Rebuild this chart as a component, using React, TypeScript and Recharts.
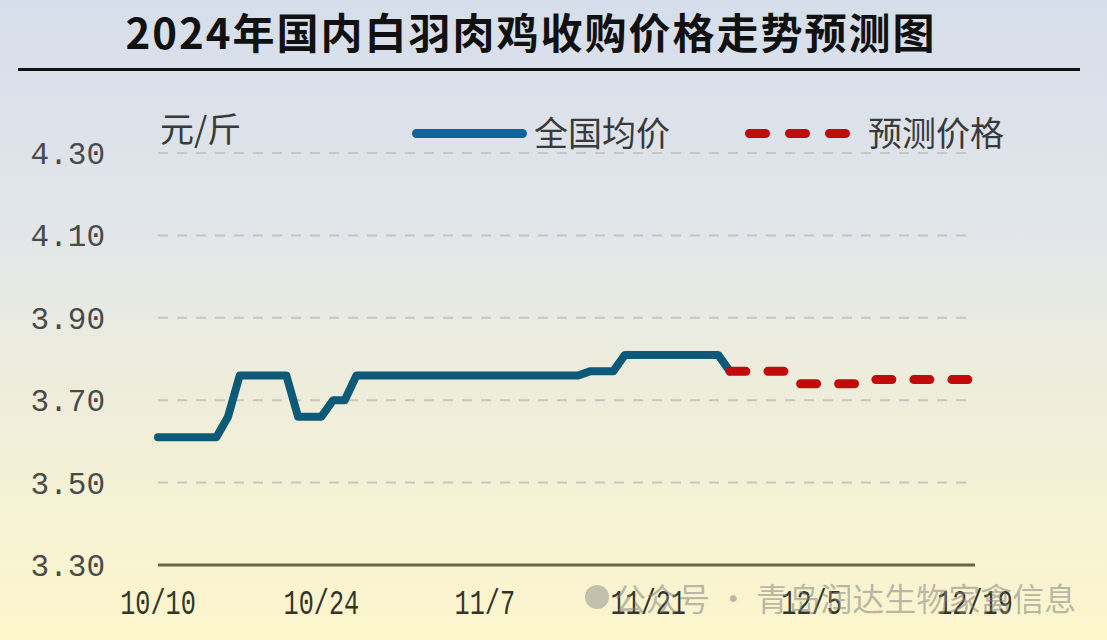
import { CartesianGrid, Line, LineChart, XAxis, YAxis } from "recharts";

// daily categories 10/10 .. 12/19
const DATES = [
  "10/10", "10/11", "10/12", "10/13", "10/14", "10/15", "10/16", "10/17", "10/18", "10/19",
  "10/20", "10/21", "10/22", "10/23", "10/24", "10/25", "10/26", "10/27", "10/28", "10/29",
  "10/30", "10/31", "11/1", "11/2", "11/3", "11/4", "11/5", "11/6", "11/7", "11/8",
  "11/9", "11/10", "11/11", "11/12", "11/13", "11/14", "11/15", "11/16", "11/17", "11/18",
  "11/19", "11/20", "11/21", "11/22", "11/23", "11/24", "11/25", "11/26", "11/27", "11/28",
  "11/29", "11/30", "12/1", "12/2", "12/3", "12/4", "12/5", "12/6", "12/7", "12/8",
  "12/9", "12/10", "12/11", "12/12", "12/13", "12/14", "12/15", "12/16", "12/17", "12/18",
  "12/19",
];

// 全国均价, 10/10 .. 11/28
const NATIONAL = [
  3.61, 3.61, 3.61, 3.61, 3.61, 3.61, 3.66, 3.76, 3.76, 3.76,
  3.76, 3.76, 3.66, 3.66, 3.66, 3.7, 3.7, 3.76, 3.76, 3.76,
  3.76, 3.76, 3.76, 3.76, 3.76, 3.76, 3.76, 3.76, 3.76, 3.76,
  3.76, 3.76, 3.76, 3.76, 3.76, 3.76, 3.76, 3.77, 3.77, 3.77,
  3.81, 3.81, 3.81, 3.81, 3.81, 3.81, 3.81, 3.81, 3.81, 3.77,
];

// 预测价格, 11/28 .. 12/19
const FORECAST_FROM = "11/28";
const FORECAST = [
  3.77, 3.77, 3.77, 3.77, 3.77, 3.77, 3.74, 3.74, 3.74, 3.74,
  3.74, 3.74, 3.75, 3.75, 3.75, 3.75, 3.75, 3.75, 3.75, 3.75,
  3.75, 3.75,
];

const Y_TICKS = [3.3, 3.5, 3.7, 3.9, 4.1, 4.3];

const BLUE = "#0c5a78";
const RED = "#c20a0a";

const start = DATES.indexOf(FORECAST_FROM);
const rows = DATES.map((d, i) => ({
  date: d,
  national: i < NATIONAL.length ? NATIONAL[i] : null,
  forecast: i >= start ? FORECAST[i - start] : null,
}));

function DateTick({ x, y, payload }: any) {
  return (
    <g transform={`translate(${x},${y})`}>
      <text
        transform="scale(0.72,1)"
        textAnchor="middle"
        dy={41}
        fill="#34342a"
        fontSize={35}
        fontFamily="'Liberation Mono', 'DejaVu Sans Mono', monospace"
      >
        {payload.value}
      </text>
    </g>
  );
}

const legendText = {
  position: "absolute",
  fontFamily: "'Noto Sans CJK SC', sans-serif",
  fontSize: 34,
  lineHeight: "40px",
  color: "#3a3a3a",
} as const;

const dash = (left: number) => (
  <div
    style={{
      position: "absolute",
      left,
      top: 129,
      width: 25,
      height: 9,
      borderRadius: 4.5,
      background: RED,
    }}
  />
);

export default function App() {
  return (
    <div
      style={{
        position: "absolute",
        left: 0,
        top: 0,
        width: 1107,
        height: 640,
        overflow: "hidden",
        background:
          "linear-gradient(180deg, #d6deeb 0%, #e2e6ea 35%, #eeeddc 60%, #f8f3d2 85%, #fcf6cc 100%)",
      }}
    >
      <div
        style={{
          position: "absolute",
          left: 0,
          top: 10,
          width: 1062,
          textAlign: "center",
          fontFamily: "'Noto Sans CJK SC', sans-serif",
          fontWeight: 700,
          fontSize: 42,
          lineHeight: "42px",
          letterSpacing: 2,
          color: "#111",
        }}
      >
        2024年国内白羽肉鸡收购价格走势预测图
      </div>
      <div
        style={{
          position: "absolute",
          left: 18,
          top: 68,
          width: 1062,
          height: 3,
          background: "#111",
        }}
      />

      <div style={{ ...legendText, left: 160, top: 108 }}>元/斤</div>
      <div
        style={{
          position: "absolute",
          left: 412,
          top: 129,
          width: 115,
          height: 9,
          borderRadius: 4.5,
          background: "#11649a",
        }}
      />
      <div style={{ ...legendText, left: 534, top: 112 }}>全国均价</div>
      {dash(745)}
      {dash(785)}
      {dash(825)}
      <div style={{ ...legendText, left: 868, top: 112 }}>预测价格</div>

      <div style={{ position: "absolute", left: 0, top: 0 }}>
        <LineChart
          width={1107}
          height={640}
          data={rows}
          margin={{ top: 153, right: 132, bottom: 35, left: 0 }}
        >
          <CartesianGrid
            vertical={false}
            stroke="#c6c6c2"
            strokeWidth={2}
            strokeDasharray="10 9"
          />
          <XAxis
            dataKey="date"
            interval={13}
            height={40}
            tickLine={false}
            axisLine={{ stroke: "#6a6548", strokeWidth: 3 }}
            tick={<DateTick />}
          />
          <YAxis
            type="number"
            domain={[3.3, 4.3]}
            ticks={Y_TICKS}
            width={158}
            tickMargin={47}
            axisLine={false}
            tickLine={false}
            tickFormatter={(v: number) => v.toFixed(2)}
            tick={{
              fill: "#4a4a4a",
              fontSize: 31,
              fontFamily: "'Liberation Mono', 'DejaVu Sans Mono', monospace",
            }}
          />
          <Line
            type="linear"
            dataKey="national"
            stroke={BLUE}
            strokeWidth={8}
            strokeLinejoin="round"
            strokeLinecap="round"
            dot={false}
            activeDot={false}
            isAnimationActive={false}
          />
          <Line
            type="linear"
            dataKey="forecast"
            stroke={RED}
            strokeWidth={9}
            strokeLinecap="round"
            strokeDasharray="16 22"
            dot={false}
            activeDot={false}
            isAnimationActive={false}
          />
        </LineChart>
      </div>

      <div
        style={{
          position: "absolute",
          left: 585,
          top: 585,
          width: 24,
          height: 24,
          borderRadius: 12,
          background: "rgba(140,140,140,0.5)",
        }}
      />
      <div
        style={{
          position: "absolute",
          left: 614,
          top: 577,
          fontFamily: "'Noto Sans CJK SC', sans-serif",
          fontSize: 32,
          lineHeight: "40px",
          color: "rgba(130,130,130,0.55)",
          whiteSpace: "nowrap",
        }}
      >
        公众号 · 青岛润达生物家禽信息
      </div>
    </div>
  );
}
